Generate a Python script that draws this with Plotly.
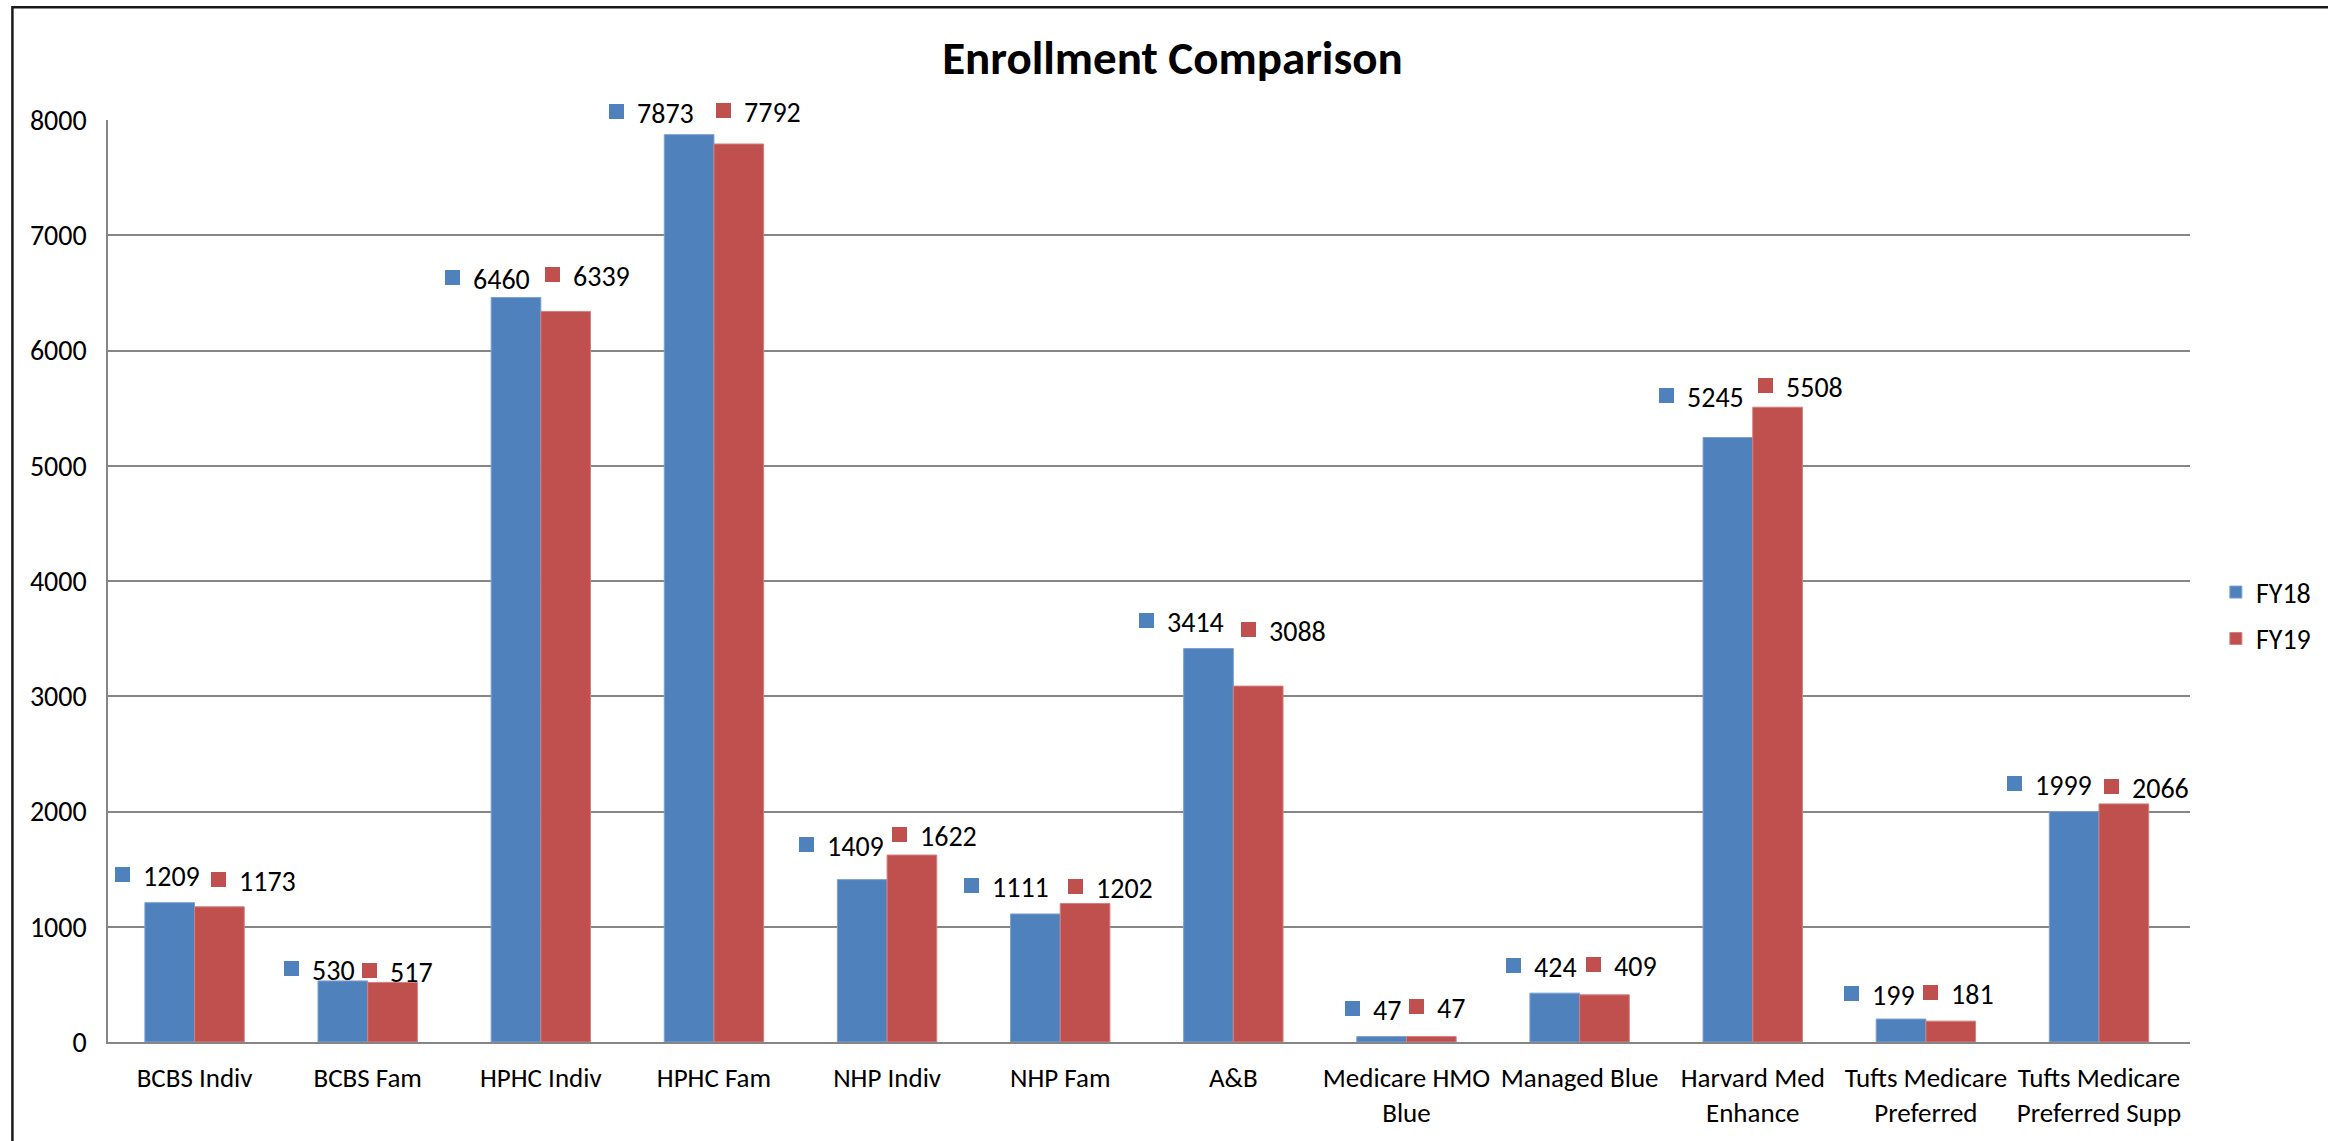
import plotly.graph_objects as go

categories = ["BCBS Indiv", "BCBS Fam", "HPHC Indiv", "HPHC Fam", "NHP Indiv", "NHP Fam",
              "A&B", "Medicare HMO<br>Blue", "Managed Blue", "Harvard Med<br>Enhance",
              "Tufts Medicare<br>Preferred", "Tufts Medicare<br>Preferred Supp"]
fy18 = [1209, 530, 6460, 7873, 1409, 1111, 3414, 47, 424, 5245, 199, 1999]
fy19 = [1173, 517, 6339, 7792, 1622, 1202, 3088, 47, 409, 5508, 181, 2066]
y_ticks = [0, 1000, 2000, 3000, 4000, 5000, 6000, 7000, 8000]

# label placement (pixels): left edge relative to bar centre, height above bar top
blue_dx = [-55, -59, -71, -80, -63, -71, -69, -36, -49, -69, -57, -67]
red_dx = [-9, -31, -21, -23, -20, -17, -17, -22, -19, -20, -28, -20]
blue_dy = [27, 11, 19, 22, 34, 27, 27, 27, 27, 41, 25, 27]
red_dy = [26, 11, 36, 32, 20, 16, 56, 29, 29, 21, 28, 16]

BLUE = "#4F81BD"
RED = "#C0504D"
FONT = "Carlito, 'Liberation Sans Narrow', 'Liberation Sans', Arial, sans-serif"
GRID = "#868686"

W, H = 2328, 1141
ML, MR, MT, MB = 108, 129, 120, 96
PW = W - ML - MR
PH = H - MT - MB

fig = go.Figure()
fig.add_trace(go.Bar(name="FY18", x=categories, y=fy18, legendgroup="fy18",
                     marker=dict(color=BLUE, line=dict(color="#7DA1CF", width=1))))
fig.add_trace(go.Bar(name="FY19", x=categories, y=fy19, legendgroup="fy19",
                     marker=dict(color=RED, line=dict(color="#D27F7D", width=1))))

annotations = []
for i, c in enumerate(categories):
    for vals, col, dx, dy, off in ((fy18, BLUE, blue_dx, blue_dy, -25), (fy19, RED, red_dx, red_dy, 25)):
        # legend-key square
        annotations.append(dict(
            x=c, y=vals[i], xref="x", yref="y", text="\u00a0",
            showarrow=False, xanchor="left", yanchor="middle",
            xshift=off + dx[i], yshift=dy[i] + 1,
            width=15, height=15, bgcolor=col, borderpad=0, borderwidth=0,
            font=dict(size=2, color=col),
        ))
        # value text
        annotations.append(dict(
            x=c, y=vals[i], xref="x", yref="y", text=str(vals[i]),
            showarrow=False, xanchor="left", yanchor="middle",
            xshift=off + dx[i] + 27, yshift=dy[i] - 1,
            borderpad=0,
            font=dict(family=FONT, size=28, color="#000000"),
        ))

def px_x(p):
    return (p - ML) / PW

def px_y(p):
    return (H - MB - p) / PH

fig.update_layout(
    width=W, height=H,
    margin=dict(l=ML, r=MR, t=MT, b=MB),
    paper_bgcolor="white", plot_bgcolor="white",
    barmode="group", bargap=0.426, bargroupgap=0,
    font=dict(family=FONT, size=27, color="#000000"),
    title=dict(text="<b>Enrollment Comparison</b>", font=dict(family=FONT, size=47, color="#000000"),
               x=px_x(1177), xref="paper", xanchor="center",
               y=1 - 58 / H, yref="container", yanchor="middle"),
    xaxis=dict(showgrid=False, showline=True, linecolor=GRID, linewidth=1.5, ticks="",
               tickfont=dict(size=27), ticklabelstandoff=11, fixedrange=True),
    yaxis=dict(range=[0, 8000], tickvals=y_ticks, showgrid=True, gridcolor=GRID, gridwidth=1.5,
               showline=True, linecolor=GRID, linewidth=1.5, ticks="", zeroline=False,
               tickfont=dict(size=28), ticklabelstandoff=14),
    legend=dict(x=px_x(2225), xanchor="left", y=px_y(617), yanchor="middle",
                font=dict(size=28), bgcolor="rgba(0,0,0,0)", itemwidth=30,
                tracegroupgap=7, traceorder="grouped"),
    annotations=annotations,
    shapes=[dict(type="rect", xref="paper", yref="paper",
                 x0=px_x(12), x1=px_x(2345), y0=px_y(1160), y1=px_y(7),
                 line=dict(color="#1a1a1a", width=2.5), fillcolor="rgba(0,0,0,0)", layer="below")],
)

fig.write_html("out.html", config={"displayModeBar": False},
               post_script="document.body.style.margin='0';document.body.style.overflow='hidden';")
